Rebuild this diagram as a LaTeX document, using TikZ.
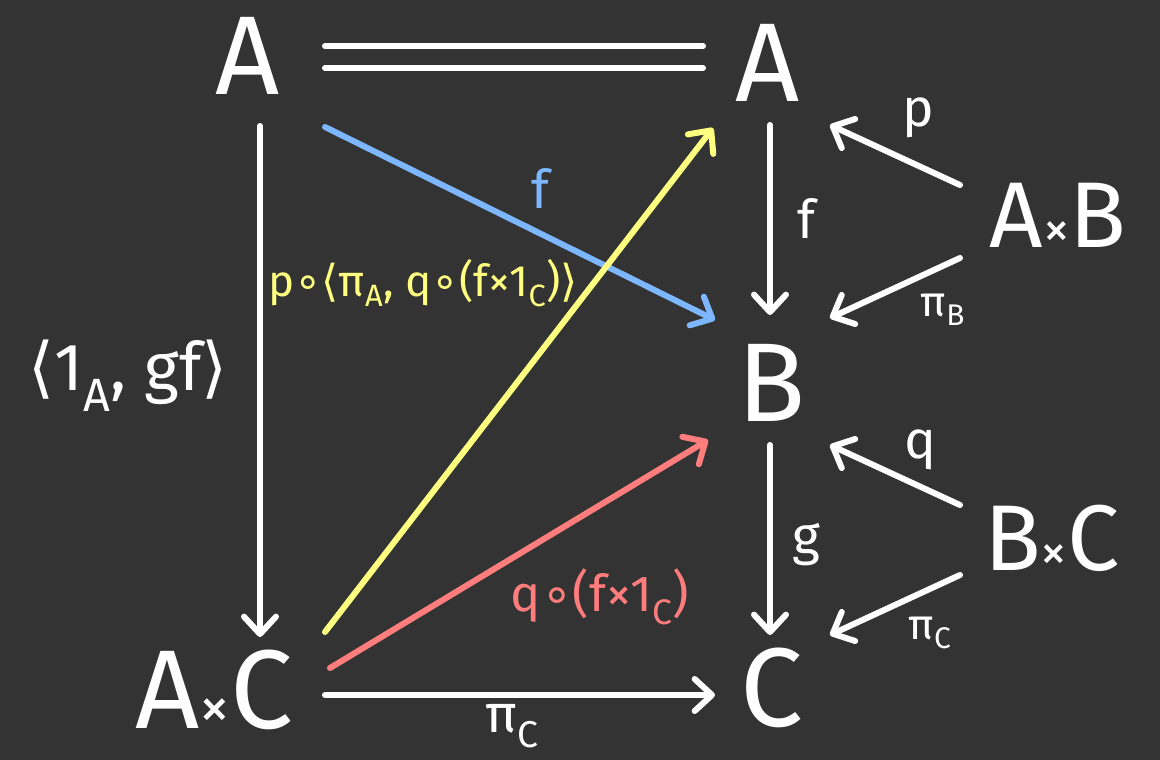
\documentclass[tikz,border=0pt]{standalone}
\usepackage{fontspec}
\setmainfont{Fira Sans}
\newfontfamily\brk{DejaVu Sans}
\definecolor{BoardGrey}{RGB}{51,51,51}
\definecolor{ChalkBlue}{RGB}{125,183,255}
\definecolor{ChalkYellow}{RGB}{255,255,128}
\definecolor{ChalkRed}{RGB}{255,125,125}
\usetikzlibrary{arrows.meta,calc}

\begin{document}
\begin{tikzpicture}[x=0.75pt,y=-0.75pt,
  obj/.style={white,inner sep=0pt,font=\fontsize{84}{84}\selectfont},
  prod/.style={white,inner sep=0pt,font=\fontsize{70}{70}\selectfont},
  lbl/.style={white,inner sep=0pt,font=\fontsize{40}{40}\selectfont},
  chalk/.style={white,line width=4.5pt,line cap=round},
  map/.style={chalk,-{Straight Barb[length=13pt,width=24pt,line width=4.5pt,line cap=round,round]}}]
\useasboundingbox (0,0) rectangle (1160,760);
\fill[BoardGrey] (0,0) rectangle (1160,760);
% objects
\node[obj] (A1) at (248,56) {A};
\node[obj] (A2) at (768,63) {A};
\node[obj] (B) at (772,383) {B};
\node[obj] (C) at (772,688) {C};
\node[obj] (AC) at (214,690) {A{\fontsize{46}{46}\selectfont×}C};
\node[prod] (AB) at (1058,215) {A{\fontsize{40}{40}\selectfont×}B};
\node[prod] (BC) at (1052,538) {B{\fontsize{40}{40}\selectfont×}C};
% equality
\draw[chalk] ($(A1)+(77,-10)$) -- ($(A1 -| A2)+(-65,-10)$);
\draw[chalk] ($(A1)+(77,12)$) -- ($(A1 -| A2)+(-65,12)$);
% main square
\draw[map] ($(A1)+(12,70)$) -- ($(AC)+(46,-53)$);
\draw[map] ($(AC)+(111,5)$) -- ($(C)+(-57,7)$);
\draw[map] ($(A2)+(2,62)$) -- ($(B)+(-2,-68)$);
\draw[map] ($(B)+(-2,62)$) -- ($(C)+(-2,-53)$);
\node[lbl,font=\fontsize{50}{50}\selectfont] (lpair) at (128,376)
  {{\brk ⟨}1\textsubscript{A}, gf{\brk ⟩}};
\node[lbl] (lpiC) at (512,726) {π\textsubscript{C}};
\node[lbl] (lf) at (806,218) {f};
\node[lbl] (lg) at (806,545) {g};
% coloured diagonals
\draw[map,ChalkBlue] ($(A1)+(77,71)$) -- ($(B)+(-57,-63)$);
\node[lbl,ChalkBlue] (lfblue) at (540,188) {f};
\draw[map,ChalkYellow] ($(AC)+(111,-58)$) -- ($(A2)+(-55,65)$);
\node[lbl,ChalkYellow,font=\fontsize{33}{33}\selectfont] (lyel) at (423,283)
  {p{\brk ∘}{\brk ⟨}π\textsubscript{A}, q{\brk ∘}(f×1\textsubscript{C}){\brk ⟩}};
\draw[map,ChalkRed] ($(AC)+(116,-22)$) -- ($(B)+(-64,57)$);
\node[lbl,ChalkRed,font=\fontsize{38}{38}\selectfont] (lred) at (600,597)
  {q{\brk ∘}(f×1\textsubscript{C})};
% projections
\draw[map] ($(AB)+(-98,-30)$) -- ($(A2)+(62,62)$);
\node[lbl] (lp) at (918,118) {p};
\draw[map] ($(AB)+(-98,43)$) -- ($(B)+(58,-65)$);
\node[lbl,font=\fontsize{32}{32}\selectfont] (lpiB) at (943,310) {π\textsubscript{B}};
\draw[map] ($(BC)+(-92,-33)$) -- ($(B)+(58,62)$);
\node[lbl] (lq) at (920,450) {q};
\draw[map] ($(BC)+(-92,37)$) -- ($(C)+(58,-53)$);
\node[lbl,font=\fontsize{32}{32}\selectfont] (lpiC2) at (930,633) {π\textsubscript{C}};
\end{tikzpicture}
\end{document}
